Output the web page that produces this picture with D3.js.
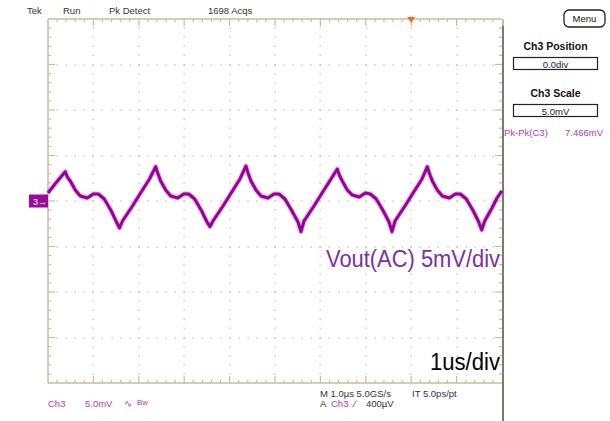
<!DOCTYPE html>
<html>
<head>
<meta charset="utf-8">
<script src="https://cdn.jsdelivr.net/npm/d3@7"></script>
<style>
  body { margin: 0; background: #fff; }
  svg { display: block; font-family: "Liberation Sans", Arial, sans-serif; }
</style>
</head>
<body>
<div id="main"></div>
<script>
// trace: time in us from left edge, value in mV (0 = centre line)
const timeUs = [0, 0.154, 0.264, 0.381,
  0.425, 0.491, 0.601, 0.711, 0.866, 0.998, 1.108, 1.240, 1.394, 1.509, 1.575, 1.641, 1.861, 2.081, 2.236, 2.372,
  2.416, 2.482, 2.593, 2.703, 2.857, 2.989, 3.099, 3.231, 3.385, 3.502, 3.568, 3.634, 3.855, 4.075, 4.229, 4.361,
  4.405, 4.471, 4.581, 4.692, 4.846, 4.978, 5.088, 5.220, 5.374, 5.507, 5.573, 5.639, 5.859, 6.079, 6.233, 6.372,
  6.416, 6.482, 6.592, 6.702, 6.857, 6.989, 7.099, 7.231, 7.385, 7.511, 7.577, 7.643, 7.863, 8.084, 8.238, 8.355,
  8.399, 8.465, 8.575, 8.685, 8.840, 8.972, 9.082, 9.214, 9.368, 9.487, 9.553, 9.619, 9.780, 9.890, 10.0]
const voltMv = [0.88, 1.87, 2.53, 3.22,
  2.64, 2.20, 1.21, 0.55, 0.33, 0.77, 0.77, 0.22, -1.10, -2.31, -2.97, -2.20, -0.55, 1.21, 2.42, 3.77,
  3.08, 2.20, 1.21, 0.55, 0.33, 0.77, 0.77, 0.22, -1.10, -2.31, -2.82, -2.20, -0.55, 1.21, 2.42, 3.85,
  3.08, 2.20, 1.21, 0.55, 0.33, 0.77, 0.77, 0.22, -1.10, -2.31, -3.37, -2.20, -0.55, 1.21, 2.42, 3.52,
  2.86, 2.20, 1.21, 0.66, 0.44, 0.88, 0.77, 0.22, -1.10, -2.31, -3.37, -2.20, -0.55, 1.21, 2.42, 3.77,
  3.08, 2.20, 1.21, 0.55, 0.33, 0.77, 0.77, 0.22, -1.10, -2.31, -3.19, -2.20, -0.77, 0.33, 1.10]

const headerLabels = ["Tek", "Run", "Pk Detect", "1698 Acqs"]
const timeDomain = [0, 10]      // 10 div x 1us
const voltDomain = [-20, 20]    // 8 div x 5mV
const triggerUs = 8.0
const sideTitles = ["Ch3 Position", "Ch3 Scale"]
const sideValues = ["0.0div", "5.0mV"]
const measureLabel = "Pk-Pk(C3)"
const measureValue = "7.466mV"

let svg = d3.select('#main').append('svg')
  .attr('width', 610)
  .attr('height', 421)

let x = d3.scaleLinear().domain(timeDomain).range([48, 502])
let y = d3.scaleLinear().domain(voltDomain).range([383, 19])

let grid = svg.append('g')
let gridColor = '#c4bf9c'

// dotted division lines
let majorX = d3.range(1, 10)
let majorY = d3.range(-15, 16, 5)
let minorX = d3.range(0, 10.001, 0.2)
let minorY = d3.range(-20, 20.001, 1)

majorX.forEach((t) => {
  grid.selectAll(null).data(minorY.slice(1, -1)).enter().append('rect')
    .attr('x', Math.round(x(t)) - 0.5).attr('y', (d) => Math.round(y(d)) - 0.5)
    .attr('width', 1.3).attr('height', 1.3).attr('fill', gridColor)
})
majorY.forEach((v) => {
  grid.selectAll(null).data(minorX.slice(1, -1)).enter().append('rect')
    .attr('x', (d) => Math.round(x(d)) - 0.5).attr('y', Math.round(y(v)) - 0.5)
    .attr('width', 1.3).attr('height', 1.3).attr('fill', gridColor)
})

// frame
grid.append('line').attr('x1', x(0)).attr('x2', x(10)).attr('y1', y(20)).attr('y2', y(20))
  .attr('stroke', gridColor).attr('stroke-width', 1.5)
grid.append('line').attr('x1', x(0)).attr('x2', x(10)).attr('y1', y(-20)).attr('y2', y(-20))
  .attr('stroke', gridColor).attr('stroke-width', 1.5)
grid.append('line').attr('x1', x(0)).attr('x2', x(0)).attr('y1', y(20)).attr('y2', y(-20))
  .attr('stroke', gridColor).attr('stroke-width', 1.5)
grid.append('line').attr('x1', x(10) + 1).attr('x2', x(10) + 1).attr('y1', y(20)).attr('y2', 26)
  .attr('stroke', gridColor).attr('stroke-width', 2)
grid.append('line').attr('x1', x(10) + 1).attr('x2', x(10) + 1).attr('y1', 26).attr('y2', 421)
  .attr('stroke', '#7c7a6c').attr('stroke-width', 2)

// edge ticks
let isMajor = (d, step) => Math.abs(d / step - Math.round(d / step)) < 1e-6
minorX.slice(1, -1).forEach((t) => {
  let len = isMajor(t, 1) ? 7 : 3
  grid.append('line').attr('x1', x(t)).attr('x2', x(t)).attr('y1', y(20)).attr('y2', y(20) + len)
    .attr('stroke', gridColor).attr('stroke-width', 1.2)
  grid.append('line').attr('x1', x(t)).attr('x2', x(t)).attr('y1', y(-20)).attr('y2', y(-20) - len)
    .attr('stroke', gridColor).attr('stroke-width', 1.2)
})
minorY.slice(1, -1).forEach((v) => {
  let len = isMajor(v, 5) ? 7 : 3
  grid.append('line').attr('x1', x(0)).attr('x2', x(0) + len).attr('y1', y(v)).attr('y2', y(v))
    .attr('stroke', gridColor).attr('stroke-width', 1.2)
  grid.append('line').attr('x1', x(10)).attr('x2', x(10) - len).attr('y1', y(v)).attr('y2', y(v))
    .attr('stroke', gridColor).attr('stroke-width', 1.2)
})

// waveform: a faint wide halo for the noise band plus the solid core
let pts = timeUs.map((t, i) => [t, voltMv[i]])
let traceLine = d3.line().x((d) => x(d[0])).y((d) => y(d[1]))
svg.append('path')
  .datum(pts)
  .attr('d', traceLine)
  .attr('fill', 'none')
  .attr('stroke', '#c060c0')
  .attr('stroke-opacity', 0.45)
  .attr('stroke-width', 5)
  .attr('stroke-linejoin', 'round')
svg.append('path')
  .datum(pts)
  .attr('d', traceLine)
  .attr('fill', 'none')
  .attr('stroke', '#990099')
  .attr('stroke-width', 3)
  .attr('stroke-linejoin', 'round')

// trigger position marker
let tx = x(triggerUs)
svg.append('path')
  .attr('d', `M${tx - 4},17 L${tx + 4},17 L${tx},23 Z`)
  .attr('fill', '#ff6a1a')

// channel ground marker
svg.append('rect').attr('x', 29).attr('y', y(0) - 6.5).attr('width', 19).attr('height', 13).attr('fill', '#990b99')
svg.append('text').attr('x', 33).attr('y', y(0) + 3.5).attr('fill', '#fff')
  .style('font-size', '9px').text('3\u2192')

// header
let headerX = [27, 63, 109, 208]
svg.selectAll('.hdr').data(headerLabels).enter().append('text')
  .attr('x', (d, i) => headerX[i]).attr('y', 14)
  .attr('fill', '#333').style('font-size', '9.5px')
  .text((d) => d)

// menu button
svg.append('rect').attr('x', 564).attr('y', 10).attr('width', 41).attr('height', 17).attr('rx', 5)
  .attr('fill', '#fff').attr('stroke', '#222').attr('stroke-width', 1.3)
svg.append('text').attr('x', 584.5).attr('y', 22).attr('text-anchor', 'middle')
  .attr('fill', '#111').style('font-size', '9.5px').text('Menu')

// side panel
sideTitles.forEach((s, i) => {
  let top = 50 + i * 47
  svg.append('text').attr('x', 555.5).attr('y', top).attr('text-anchor', 'middle')
    .attr('fill', '#111').style('font-size', '10.5px').style('font-weight', 'bold').text(s)
  svg.append('rect').attr('x', 513.5).attr('y', top + 7.5).attr('width', 84).attr('height', 12)
    .attr('fill', '#fff').attr('stroke', '#222').attr('stroke-width', 1.2)
  svg.append('text').attr('x', 555.5).attr('y', top + 17.5).attr('text-anchor', 'middle')
    .attr('fill', '#222').style('font-size', '9.5px').text(sideValues[i])
})
svg.append('text').attr('x', 504).attr('y', 136).attr('fill', '#b23ab2')
  .style('font-size', '9.5px').text(measureLabel)
svg.append('text').attr('x', 603).attr('y', 136).attr('text-anchor', 'end').attr('fill', '#b23ab2')
  .style('font-size', '9.5px').text(measureValue)

// annotations
svg.append('text').attr('x', 500).attr('y', 266.5).attr('text-anchor', 'end')
  .attr('fill', '#7b2fa6').style('font-size', '23px')
  .attr('textLength', 174).attr('lengthAdjust', 'spacingAndGlyphs')
  .text('Vout(AC) 5mV/div')
svg.append('text').attr('x', 500).attr('y', 370).attr('text-anchor', 'end')
  .attr('fill', '#000').style('font-size', '23px')
  .attr('textLength', 70).attr('lengthAdjust', 'spacingAndGlyphs')
  .text('1us/div')

// bottom readout
let low = svg.append('g').style('font-size', '9.5px')
low.append('text').attr('x', 48).attr('y', 407).attr('fill', '#b23ab2').text('Ch3')
low.append('text').attr('x', 85).attr('y', 407).attr('fill', '#b23ab2').text('5.0mV')
low.append('text').attr('x', 124).attr('y', 407).attr('fill', '#b23ab2').text('\u223F')
low.append('text').attr('x', 137).attr('y', 405).attr('fill', '#b23ab2').style('font-size', '8px').text('Bw')
low.append('text').attr('x', 320).attr('y', 397).attr('fill', '#333').text('M 1.0\u00B5s 5.0GS/s')
low.append('text').attr('x', 412).attr('y', 397).attr('fill', '#333').text('IT 5.0ps/pt')
low.append('text').attr('x', 320).attr('y', 407).attr('fill', '#333').text('A')
low.append('text').attr('x', 331).attr('y', 407).attr('fill', '#b23ab2').text('Ch3')
low.append('text').attr('x', 354).attr('y', 407).attr('fill', '#333').text('\u2215')
low.append('text').attr('x', 366).attr('y', 407).attr('fill', '#333').text('400\u00B5V')
</script>
</body>
</html>
